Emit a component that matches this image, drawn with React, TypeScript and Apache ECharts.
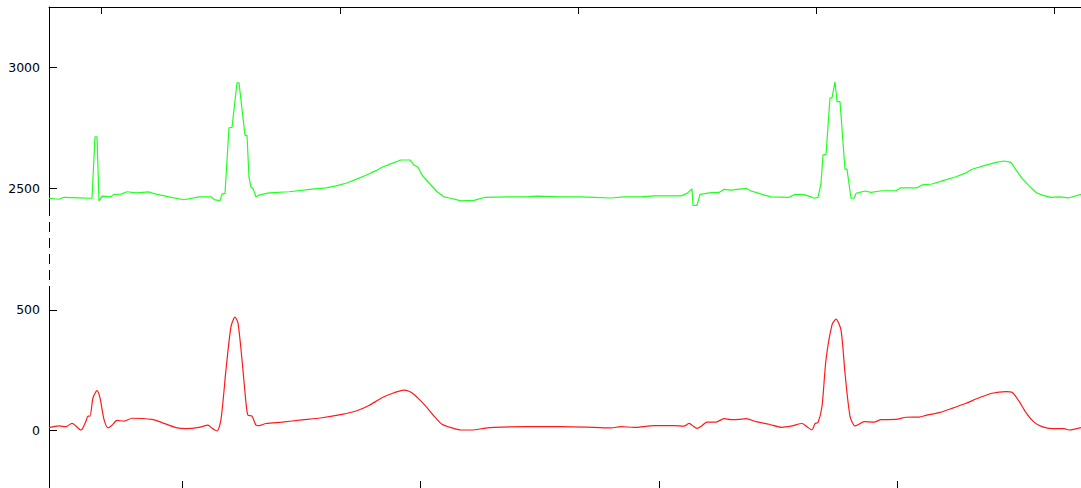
import React, { useEffect, useRef } from "react";
import * as echarts from "echarts";

// sample index (x) and values for the raw (green) trace
const rawX = [0, 10, 15, 30, 42, 43, 46, 48, 50, 53, 62, 65, 72, 78, 87, 100, 107, 120, 135, 150, 162, 166, 171, 173, 176, 180, 183, 188, 190, 196, 198, 200, 202, 204, 207, 210, 220, 240, 263, 277, 287, 297, 307, 317, 327, 333, 343, 352, 361, 365, 369, 373, 381, 388, 395, 402, 412, 425, 436, 458, 478, 488, 512, 532, 545, 562, 575, 592, 605, 632, 638, 643, 644, 648, 651, 662, 670, 675, 682, 697, 702, 710, 722, 740, 746, 755, 762, 765, 769, 772, 774, 777, 781, 783, 786, 788, 791, 796, 798, 802, 805, 807, 816, 822, 833, 847, 852, 868, 873, 883, 893, 907, 917, 923, 937, 947, 955, 962, 967, 973, 980, 987, 993, 1002, 1010, 1020, 1032];
const rawY = [2459, 2455, 2463, 2461, 2459, 2459, 2713, 2713, 2448, 2468, 2465, 2475, 2476, 2486, 2481, 2485, 2476, 2465, 2453, 2465, 2465, 2452, 2449, 2476, 2479, 2750, 2752, 2936, 2936, 2719, 2719, 2545, 2504, 2500, 2464, 2472, 2481, 2486, 2497, 2502, 2510, 2521, 2537, 2554, 2573, 2587, 2603, 2617, 2617, 2596, 2587, 2555, 2518, 2486, 2465, 2459, 2448, 2450, 2463, 2465, 2465, 2468, 2465, 2465, 2463, 2460, 2465, 2465, 2469, 2469, 2479, 2498, 2430, 2430, 2475, 2482, 2483, 2496, 2493, 2500, 2489, 2479, 2465, 2463, 2475, 2474, 2465, 2459, 2463, 2521, 2638, 2640, 2874, 2874, 2940, 2858, 2858, 2579, 2579, 2459, 2459, 2479, 2489, 2483, 2490, 2490, 2502, 2502, 2514, 2518, 2531, 2548, 2564, 2579, 2596, 2607, 2613, 2607, 2576, 2541, 2510, 2483, 2472, 2463, 2465, 2461, 2475];

// sample index (x) and values for the filtered (red) trace
const filtX = [0, 10, 17, 23, 32, 37, 39, 41, 44, 48, 51, 55, 59, 63, 68, 75, 83, 103, 113, 127, 137, 150, 159, 163, 168, 172, 177, 182, 186, 189, 193, 197, 199, 203, 207, 210, 217, 233, 253, 273, 293, 307, 320, 333, 345, 355, 360, 365, 372, 378, 385, 393, 402, 412, 423, 435, 445, 478, 512, 545, 562, 572, 585, 605, 625, 635, 640, 643, 648, 653, 658, 667, 675, 682, 690, 697, 707, 720, 733, 743, 753, 758, 763, 766, 769, 773, 777, 783, 787, 792, 796, 801, 806, 810, 815, 825, 832, 847, 857, 870, 877, 890, 903, 917, 930, 943, 957, 963, 970, 977, 985, 993, 1003, 1015, 1020, 1032];
const filtY = [11, 18, 15, 29, 1, 38, 59, 59, 135, 165, 135, 45, 10, 21, 41, 38, 50, 45, 32, 11, 7, 12, 21, 8, -3, 45, 252, 431, 470, 445, 293, 114, 62, 59, 21, 19, 28, 34, 43, 52, 66, 80, 103, 135, 156, 167, 162, 149, 121, 94, 59, 25, 11, 1, 1, 8, 12, 15, 15, 12, 10, 15, 12, 19, 19, 17, 29, 21, 8, 19, 34, 34, 48, 44, 45, 48, 36, 25, 12, 18, 28, 15, 1, 28, 32, 100, 293, 438, 462, 417, 238, 59, 18, 25, 36, 34, 44, 45, 54, 55, 62, 73, 91, 112, 135, 154, 161, 158, 121, 73, 34, 15, 7, 7, 1, 11];

const topTicks = [52.7, 291, 529.3, 767, 1005.3];
const bottomTicks = [133.7, 371.7, 610, 848.3];
const upperYTicks = [2500, 3000];
const lowerYTicks = [0, 500];

export default function App() {
  const ref = useRef<HTMLDivElement>(null);
  useEffect(() => {
    if (!ref.current) return;
    const chart = echarts.init(ref.current, null, { renderer: "svg" });
    const axisLine = { show: true, onZero: false, lineStyle: { color: "#000", width: 1 } };
    const label = {
      color: "#000", fontFamily: "DejaVu Sans", fontSize: 12.5,
      formatter: (v: number) => String(v),
    };
    chart.setOption({
      animation: false,
      textStyle: { fontFamily: "DejaVu Sans", fontSize: 12, color: "#000" },
      grid: [
        { left: 49, top: 7, width: 1032, height: 207 },
        { left: 49, top: 290, width: 1032, height: 199 },
      ],
      xAxis: [
        {
          type: "value", gridIndex: 0, position: "top", min: 0, max: 1032,
          axisLine, splitLine: { show: false },
          axisTick: { show: true, inside: true, length: 7, lineStyle: { color: "#000" }, customValues: topTicks },
          axisLabel: { show: false },
        },
        {
          type: "value", gridIndex: 1, position: "bottom", min: 0, max: 1032,
          axisLine: { show: false, onZero: false }, splitLine: { show: false },
          axisTick: { show: true, inside: true, length: 7, lineStyle: { color: "#000" }, customValues: bottomTicks },
          axisLabel: { show: false },
        },
      ],
      yAxis: [
        {
          type: "value", gridIndex: 0, min: 2394, max: 3249,
          axisLine, splitLine: { show: false },
          axisTick: { show: true, inside: true, length: 8, lineStyle: { color: "#000" }, customValues: upperYTicks },
          axisLabel: { ...label, margin: 9, customValues: upperYTicks },
        },
        {
          type: "value", gridIndex: 1, min: -240, max: 583,
          axisLine, splitLine: { show: false },
          axisTick: { show: true, inside: true, length: 8, lineStyle: { color: "#000" }, customValues: lowerYTicks },
          axisLabel: { ...label, margin: 9, customValues: lowerYTicks },
        },
      ],
      graphic: [
        {
          type: "line",
          shape: { x1: 49.5, y1: 214, x2: 49.5, y2: 290 },
          style: { stroke: "#000", lineWidth: 1, lineDash: [10, 6], lineDashOffset: -8 },
        },
      ],
      series: [
        {
          type: "line", xAxisIndex: 0, yAxisIndex: 0, showSymbol: false,
          data: rawX.map((x, i) => [x, rawY[i]]),
          lineStyle: { color: "#22ff22", width: 1.2 }, itemStyle: { color: "#22ff22" },
        },
        {
          type: "line", xAxisIndex: 1, yAxisIndex: 1, showSymbol: false, smooth: 0.25,
          data: filtX.map((x, i) => [x, filtY[i]]),
          lineStyle: { color: "#ff1a1a", width: 1.2 }, itemStyle: { color: "#ff1a1a" },
        },
      ],
    });
    return () => chart.dispose();
  }, []);
  return (
    <div
      ref={ref}
      style={{ position: "fixed", left: 0, top: 0, width: 1081, height: 488, background: "#fff" }}
    />
  );
}
